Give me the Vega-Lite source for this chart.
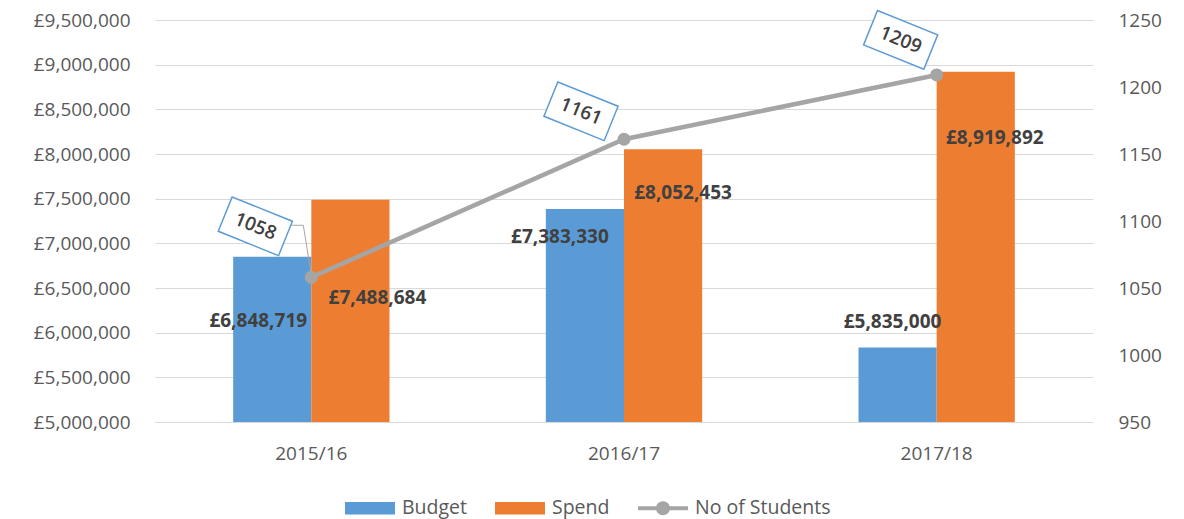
{
  "$schema": "https://vega.github.io/schema/vega-lite/v6.json",
  "width": 938,
  "height": 402,
  "autosize": {"type": "none"},
  "padding": {"left": 155, "top": 20, "right": 91, "bottom": 97},
  "background": "white",
  "config": {
    "font": "Open Sans",
    "view": {"stroke": null},
    "axis": {"labelFont": "Open Sans", "labelFontSize": 19, "labelColor": "#595959", "ticks": false, "title": null}
  },
  "datasets": {
    "money": [
      {"year": "2015/16", "series": "Budget", "amount": 6848719},
      {"year": "2015/16", "series": "Spend", "amount": 7488684},
      {"year": "2016/17", "series": "Budget", "amount": 7383330},
      {"year": "2016/17", "series": "Spend", "amount": 8052453},
      {"year": "2017/18", "series": "Budget", "amount": 5835000},
      {"year": "2017/18", "series": "Spend", "amount": 8919892}
    ],
    "students": [
      {"year": "2015/16", "students": 1058},
      {"year": "2016/17", "students": 1161},
      {"year": "2017/18", "students": 1209}
    ]
  },
  "layer": [
    {
      "data": {"name": "money"},
      "transform": [{"calculate": "'£' + format(datum.amount, ',')", "as": "label"}],
      "encoding": {
        "x": {"field": "year", "type": "nominal", "sort": ["2015/16", "2016/17", "2017/18"],
          "scale": {"paddingInner": 0, "paddingOuter": 0},
          "axis": {"labelAngle": 0, "domain": true, "domainColor": "#D9D9D9", "domainWidth": 1, "labelPadding": 22, "grid": false}},
        "xOffset": {"field": "series", "type": "nominal", "scale": {"domain": ["Budget", "Spend"], "paddingInner": 0, "paddingOuter": 1.12}},
        "y": {"field": "amount", "type": "quantitative",
          "scale": {"domain": [5000000, 9500000], "zero": false, "nice": false},
          "axis": {"values": [5000000, 5500000, 6000000, 6500000, 7000000, 7500000, 8000000, 8500000, 9000000, 9500000],
            "labelExpr": "'£' + format(datum.value, ',')", "grid": true, "gridColor": "#D9D9D9", "gridWidth": 1, "domain": false, "labelPadding": 25}}
      },
      "layer": [
        {
          "mark": {"type": "bar", "clip": true},
          "encoding": {
            "color": {"field": "series", "type": "nominal",
              "scale": {"domain": ["Budget", "Spend", "No of Students"], "range": ["#5B9BD5", "#ED7D31", "#A5A5A5"]},
              "legend": {
                "orient": "none", "legendX": 190, "legendY": 463, "direction": "horizontal", "title": null,
                "labelFontSize": 19.5, "labelColor": "#595959", "labelFont": "Open Sans", "labelOffset": 7,
                "columnPadding": 28, "symbolSize": 2500, "symbolStrokeWidth": 0, "symbolOpacity": 1,
                "encode": {"symbols": {"update": {"shape": {"signal": "datum.label === 'No of Students' ? 'M-1,-0.08H1V0.08H-1Z M-0.28,0A0.28,0.28 0 1,1 0.28,0A0.28,0.28 0 1,1 -0.28,0Z' : 'M-1,-0.25H1V0.25H-1Z'"}, "strokeWidth": {"value": 0}}}}
              }}
          }
        },
        {"transform": [{"filter": "datum.year === '2015/16' && datum.series === 'Budget'"}],
          "mark": {"type": "text", "fontWeight": "bold", "fontSize": 19, "color": "#404040", "baseline": "middle", "dx": -14, "dy": 64},
          "encoding": {"text": {"field": "label"}}},
        {"transform": [{"filter": "datum.year === '2016/17' && datum.series === 'Budget'"}],
          "mark": {"type": "text", "fontWeight": "bold", "fontSize": 19, "color": "#404040", "baseline": "middle", "dx": -25, "dy": 28},
          "encoding": {"text": {"field": "label"}}},
        {"transform": [{"filter": "datum.year === '2017/18' && datum.series === 'Budget'"}],
          "mark": {"type": "text", "fontWeight": "bold", "fontSize": 19, "color": "#404040", "baseline": "middle", "dx": -5, "dy": -25},
          "encoding": {"text": {"field": "label"}}},
        {"transform": [{"filter": "datum.year === '2015/16' && datum.series === 'Spend'"}],
          "mark": {"type": "text", "fontWeight": "bold", "fontSize": 19, "color": "#404040", "baseline": "middle", "dx": 27, "dy": 98},
          "encoding": {"text": {"field": "label"}}},
        {"transform": [{"filter": "datum.year === '2016/17' && datum.series === 'Spend'"}],
          "mark": {"type": "text", "fontWeight": "bold", "fontSize": 19, "color": "#404040", "baseline": "middle", "dx": 20, "dy": 44},
          "encoding": {"text": {"field": "label"}}},
        {"transform": [{"filter": "datum.year === '2017/18' && datum.series === 'Spend'"}],
          "mark": {"type": "text", "fontWeight": "bold", "fontSize": 19, "color": "#404040", "baseline": "middle", "dx": 19, "dy": 66},
          "encoding": {"text": {"field": "label"}}}
      ]
    },
    {
      "data": {"name": "students"},
      "encoding": {
        "x": {"field": "year", "type": "nominal", "sort": ["2015/16", "2016/17", "2017/18"]},
        "y": {"field": "students", "type": "quantitative",
          "scale": {"domain": [950, 1250], "zero": false, "nice": false},
          "axis": {"orient": "right", "values": [950, 1000, 1050, 1100, 1150, 1200, 1250], "format": "d", "grid": false, "domain": false, "labelPadding": 25}}
      },
      "layer": [
        {"mark": {"type": "line", "color": "#A5A5A5", "strokeWidth": 4.5}},
        {"mark": {"type": "point", "filled": true, "color": "#A5A5A5", "opacity": 1, "size": 170}},
        {"transform": [{"filter": "datum.year === '2015/16'"}],
          "mark": {"type": "rule", "color": "#A5A5A5", "strokeWidth": 1, "xOffset": -8, "yOffset": -52, "x2Offset": 0, "y2Offset": -2},
          "encoding": {"x2": {"field": "year"}, "y2": {"field": "students"}}},
        {"transform": [{"filter": "datum.year === '2015/16'"}],
          "mark": {"type": "rule", "color": "#A5A5A5", "strokeWidth": 1, "xOffset": -20, "yOffset": -52, "x2Offset": -8, "y2Offset": -52},
          "encoding": {"x2": {"field": "year"}, "y2": {"field": "students"}}},
        {"transform": [{"filter": "datum.year === '2015/16'"}],
          "mark": {"type": "point", "shape": "M-1,-0.57H1V0.57H-1Z", "size": 4225, "angle": 22, "filled": true, "fill": "white", "stroke": "#5B9BD5", "strokeWidth": 1.5, "opacity": 1, "fillOpacity": 1, "xOffset": -56, "yOffset": -51}},
        {"transform": [{"filter": "datum.year === '2016/17'"}],
          "mark": {"type": "point", "shape": "M-1,-0.57H1V0.57H-1Z", "size": 4225, "angle": 22, "filled": true, "fill": "white", "stroke": "#5B9BD5", "strokeWidth": 1.5, "opacity": 1, "fillOpacity": 1, "xOffset": -43, "yOffset": -28}},
        {"transform": [{"filter": "datum.year === '2017/18'"}],
          "mark": {"type": "point", "shape": "M-1,-0.57H1V0.57H-1Z", "size": 4225, "angle": 22, "filled": true, "fill": "white", "stroke": "#5B9BD5", "strokeWidth": 1.5, "opacity": 1, "fillOpacity": 1, "xOffset": -36, "yOffset": -35}},
        {"transform": [{"filter": "datum.year === '2015/16'"}],
          "mark": {"type": "text", "fontSize": 19, "fontWeight": 600, "color": "#404040", "angle": 22, "baseline": "middle", "align": "center", "xOffset": -56, "yOffset": -51},
          "encoding": {"text": {"field": "students"}}},
        {"transform": [{"filter": "datum.year === '2016/17'"}],
          "mark": {"type": "text", "fontSize": 19, "fontWeight": 600, "color": "#404040", "angle": 22, "baseline": "middle", "align": "center", "xOffset": -43, "yOffset": -28},
          "encoding": {"text": {"field": "students"}}},
        {"transform": [{"filter": "datum.year === '2017/18'"}],
          "mark": {"type": "text", "fontSize": 19, "fontWeight": 600, "color": "#404040", "angle": 22, "baseline": "middle", "align": "center", "xOffset": -36, "yOffset": -35},
          "encoding": {"text": {"field": "students"}}}
      ]
    }
  ],
  "resolve": {"scale": {"y": "independent"}}
}
